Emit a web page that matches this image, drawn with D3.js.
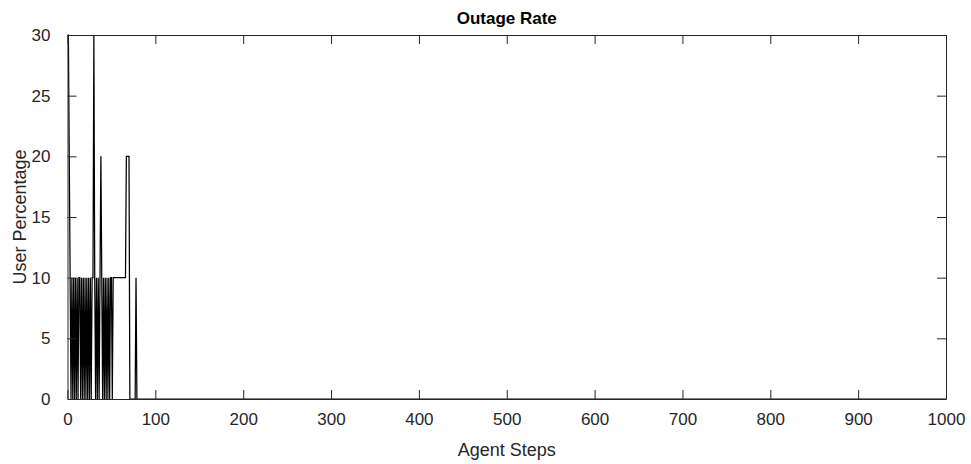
<!DOCTYPE html>
<html>
<head>
<meta charset="utf-8">
<script src="https://cdn.jsdelivr.net/npm/d3@7"></script>
<style>
  html, body { margin: 0; padding: 0; background: #fff; }
  svg { display: block; }
  text { font-family: Arial, "Liberation Sans", Helvetica, sans-serif; fill: #262626; }
</style>
</head>
<body>
<svg id="chart" width="971" height="464"></svg>
<script>
// Outage rate per agent step (percentage of users in outage)
const steps = [
  0, 1, 2, 3, 4, 5, 6, 7, 8, 9,
  10, 11, 12, 13, 14, 15, 16, 17, 18, 19,
  20, 21, 22, 23, 24, 25, 26, 27, 28, 29,
  30, 31, 32, 33, 34, 35, 36, 37, 38, 39,
  40, 41, 42, 43, 44, 45, 46, 47, 48, 49,
  50, 51, 52, 53, 54, 55, 56, 57, 58, 59,
  60, 61, 62, 63, 64, 65, 66, 67, 68, 69,
  70, 71, 72, 73, 74, 75, 76, 77, 78, 79,
  1000
];
const outage = [
  30, 30, 20, 10, 0, 10, 0, 10, 0, 10,
  0, 10, 0, 10, 10, 0, 10, 0, 10, 0,
  10, 0, 10, 0, 10, 0, 10, 0, 10, 10,
  30, 10, 0, 10, 0, 10, 0, 10, 20, 10,
  0, 10, 0, 10, 0, 10, 0, 10, 0, 10,
  10, 0, 10, 10, 10, 10, 10, 10, 10, 10,
  10, 10, 10, 10, 10, 10, 10, 20, 20, 20,
  20, 0, 0, 0, 0, 0, 0, 0, 10, 0,
  0
];
const xTicks = [0, 100, 200, 300, 400, 500, 600, 700, 800, 900, 1000];
const yTicks = [0, 5, 10, 15, 20, 25, 30];
const titleText = "Outage Rate";
const xLabel = "Agent Steps";
const yLabel = "User Percentage";

const svg = d3.select("#chart");
const margin = { left: 67.5, right: 25, top: 35, bottom: 65 };
const W = 971, H = 464;
const x = d3.scaleLinear().domain([0, 1000]).range([margin.left, W - margin.right]);
const y = d3.scaleLinear().domain([0, 30]).range([H - margin.bottom, margin.top]);

const axisColor = "#262626";
const tickLen = 9;
const fontSize = 17;

// data line
const line = d3.line().x((d, i) => x(steps[i])).y(d => y(d));
svg.append("path")
  .datum(outage)
  .attr("d", line)
  .attr("fill", "none")
  .attr("stroke", "#000")
  .attr("stroke-width", 1.25)
  .attr("stroke-linejoin", "miter");

// axes with inward ticks on all four sides
function styleAxis(g) {
  g.select(".domain").attr("stroke", axisColor).attr("stroke-width", 1);
  g.selectAll(".tick line").attr("stroke", axisColor).attr("stroke-width", 1);
  g.selectAll(".tick text").attr("font-size", fontSize).attr("fill", axisColor)
    .style("font-family", "Arial, 'Liberation Sans', Helvetica, sans-serif");
}

svg.append("g")
  .attr("transform", `translate(0,${y(0)})`)
  .call(d3.axisBottom(x).tickValues(xTicks).tickSizeInner(-tickLen).tickSizeOuter(0).tickPadding(14).tickFormat(d3.format("d")))
  .call(styleAxis);

svg.append("g")
  .attr("transform", `translate(0,${y(30)})`)
  .call(d3.axisTop(x).tickValues(xTicks).tickSizeInner(-tickLen).tickSizeOuter(0).tickFormat(""))
  .call(styleAxis);

svg.append("g")
  .attr("transform", `translate(${x(0)},0)`)
  .call(d3.axisLeft(y).tickValues(yTicks).tickSizeInner(-tickLen).tickSizeOuter(0).tickPadding(17).tickFormat(d3.format("d")))
  .call(styleAxis);

svg.append("g")
  .attr("transform", `translate(${x(1000)},0)`)
  .call(d3.axisRight(y).tickValues(yTicks).tickSizeInner(-tickLen).tickSizeOuter(0).tickFormat(""))
  .call(styleAxis);

// title and axis labels
svg.append("text")
  .attr("x", (x(0) + x(1000)) / 2)
  .attr("y", 24)
  .attr("text-anchor", "middle")
  .attr("font-size", 17)
  .attr("font-weight", "bold")
  .style("fill", "#000")
  .text(titleText);

svg.append("text")
  .attr("x", (x(0) + x(1000)) / 2)
  .attr("y", 456)
  .attr("text-anchor", "middle")
  .attr("font-size", 18)
  .text(xLabel);

svg.append("text")
  .attr("transform", `translate(26,${(y(0) + y(30)) / 2}) rotate(-90)`)
  .attr("text-anchor", "middle")
  .attr("font-size", 18)
  .text(yLabel);
</script>
</body>
</html>
